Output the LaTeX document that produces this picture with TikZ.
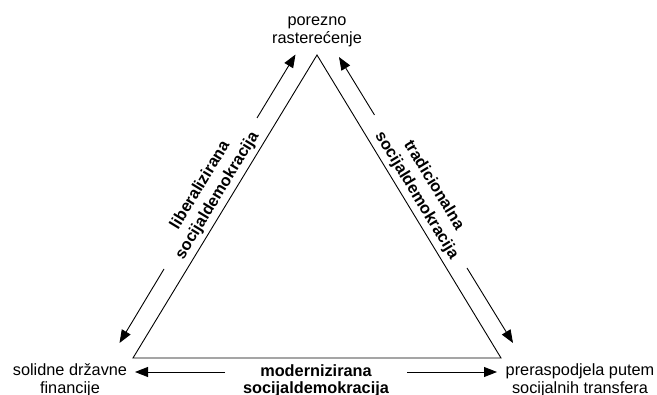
\documentclass[tikz,border=0pt]{standalone}
\usepackage{fontspec}
\setmainfont{Liberation Sans}
\usetikzlibrary{arrows.meta}
\begin{document}
\begin{tikzpicture}[x=1pt,y=-1pt,
  lbl/.style={align=center, inner sep=0pt, font=\fontsize{16.3}{17.5}\selectfont},
  blbl/.style={align=center, inner sep=0pt, font=\fontsize{16.3}{17.5}\selectfont\bfseries},
  rlbl/.style={align=center, inner sep=0pt, font=\fontsize{16.3}{20}\selectfont\bfseries},
  tri/.style={line width=0.9pt, line join=miter},
  arr/.style={line width=0.9pt, -{Triangle[length=13pt,width=10pt]}}]
\useasboundingbox (0,0) rectangle (657,395);
% corners
\coordinate (A) at (317,55);
\coordinate (BL) at (133,358);
\coordinate (BR) at (501,358);
\draw[tri] (A) -- (BL) -- (BR) -- cycle;
% corner labels
\node[lbl] (top) at (317,32) {porezno\\rasterećenje};
\node[lbl] (left) at (70,380.5) {solidne državne\\financije};
\node[lbl] (right) at (580,380.5) {preraspodjela putem\\socijalnih transfera};
% side labels
\node[rlbl, rotate=58.7] (lib) at (209,190.5) {liberalizirana\\socijaldemokracija};
\node[rlbl, rotate=-58.7] (trad) at (425,190.5) {tradicionalna\\socijaldemokracija};
\node[blbl] (mod) at (316,381) {modernizirana\\socijaldemokracija};
% arrow end points
\coordinate (l1s) at (257,118);
\coordinate (l1e) at (295.5,54.5);
\coordinate (l2s) at (164,269);
\coordinate (l2e) at (119.5,343);
\coordinate (r1s) at (374.5,115);
\coordinate (r1e) at (339,57);
\coordinate (r2s) at (467,268);
\coordinate (r2e) at (513,343);
\coordinate (b1s) at (225,372);
\coordinate (b1e) at (135,372);
\coordinate (b2s) at (407,372);
\coordinate (b2e) at (497,372);
\draw[arr] (l1s) -- (l1e);
\draw[arr] (l2s) -- (l2e);
\draw[arr] (r1s) -- (r1e);
\draw[arr] (r2s) -- (r2e);
\draw[arr] (b1s) -- (b1e);
\draw[arr] (b2s) -- (b2e);
\end{tikzpicture}
\end{document}
